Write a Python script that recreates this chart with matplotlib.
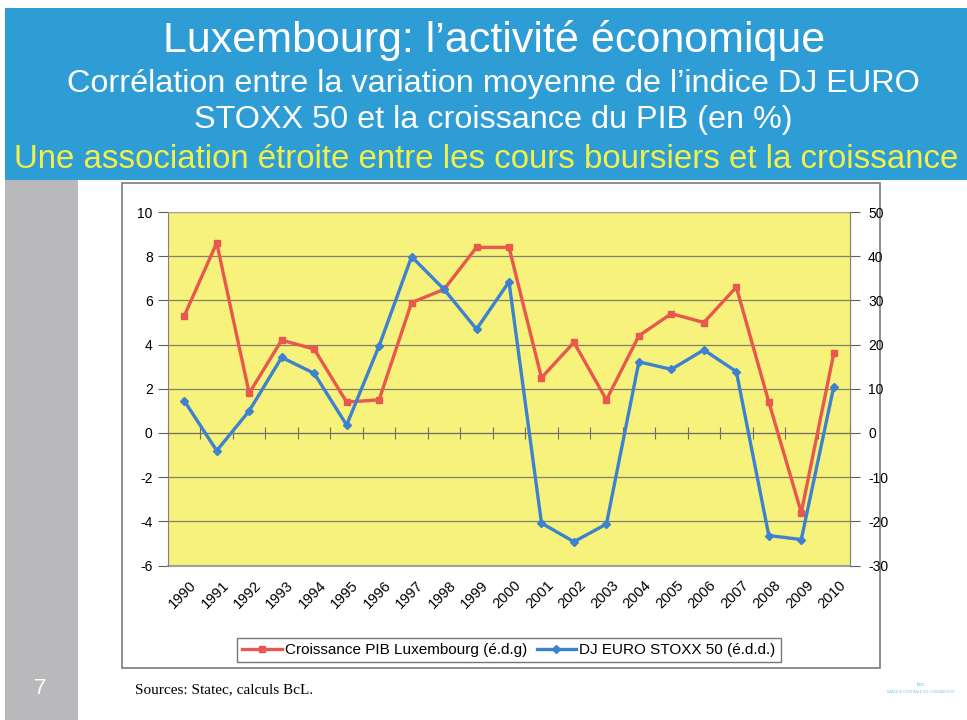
import matplotlib
matplotlib.use("Agg")
import matplotlib.pyplot as plt
from matplotlib.patches import Rectangle
from matplotlib.lines import Line2D

years = [str(y) for y in range(1990, 2011)]
pib = [5.3, 8.6, 1.8, 4.2, 3.8, 1.4, 1.5, 5.9, 6.5, 8.4, 8.4, 2.5, 4.1, 1.5, 4.4, 5.4, 5.0, 6.6, 1.4, -3.6, 3.6]
stoxx = [7.3, -4.0, 5.0, 17.1, 13.5, 1.8, 19.7, 39.9, 32.5, 23.5, 34.2, -20.4, -24.6, -20.6, 16.1, 14.4, 18.8, 13.9, -23.2, -24.1, 10.5]
left_ticks = [-6, -4, -2, 0, 2, 4, 6, 8, 10]
right_ticks = [-30, -20, -10, 0, 10, 20, 30, 40, 50]

title1 = "Luxembourg: l\u2019activit\u00e9 \u00e9conomique"
title2 = "Corr\u00e9lation entre la variation moyenne de l\u2019indice DJ EURO"
title3 = "STOXX 50 et la croissance du PIB (en %)"
title4 = "Une association \u00e9troite entre les cours boursiers et la croissance"
leg1 = "Croissance PIB Luxembourg (\u00e9.d.g)"
leg2 = "DJ EURO STOXX 50 (\u00e9.d.d.)"
source = "Sources: Statec, calculs BcL."

W, H = 967, 720
plt.rcParams['font.family'] = ['Liberation Sans', 'DejaVu Sans']
plt.rcParams['axes.unicode_minus'] = False
fig = plt.figure(figsize=(W / 100, H / 100), dpi=100)
fig.patch.set_facecolor('white')

def px(x0, y0, x1, y1):
    return [x0 / W, 1 - y1 / H, (x1 - x0) / W, (y1 - y0) / H]

bg = fig.add_axes([0, 0, 1, 1])
bg.set_xlim(0, W)
bg.set_ylim(H, 0)
bg.axis('off')
bg.add_patch(Rectangle((5, 8), W - 5, 172, facecolor='#2f9dd5', edgecolor='none'))
bg.add_patch(Rectangle((5, 180), 73, H - 180, facecolor='#b9b9bb', edgecolor='none'))
bg.add_patch(Rectangle((122, 183), 758, 485, facecolor='white', edgecolor='#7a7a7a', lw=1.2))
bg.text(494, 52, title1, color='white', fontsize=31, ha='center', va='baseline')
bg.text(493, 92, title2, color='white', fontsize=23.3, ha='center', va='baseline')
bg.text(493, 128, title3, color='white', fontsize=23.3, ha='center', va='baseline')
bg.text(486, 168, title4, color='#f2f04a', fontsize=23.8, ha='center', va='baseline')
bg.text(40, 688, "7", color='white', fontsize=16, ha='center', va='center')
bg.text(135, 690, source, fontsize=11, ha='left', va='center', family=['Liberation Serif', 'DejaVu Serif'])
bg.text(921, 684, "b:c", color='#5bb8d8', fontsize=5, ha='center', va='center', family=['Liberation Serif'])
bg.text(921, 692, "BANQUE CENTRALE DU LUXEMBOURG", color='#7cc8e0', fontsize=2.6, ha='center', va='center')

ax = fig.add_axes(px(168, 212, 850, 565.6))
ax.set_facecolor('#f7f27b')
x = list(range(len(years)))
red = '#e8584f'
blue = '#3d82d0'
ax.plot(x, pib, color=red, lw=2.4, marker='s', ms=4.5, zorder=4)
ax.set_xlim(-0.5, len(years) - 0.5)
ax.set_ylim(-6, 10)
ax.set_yticks(left_ticks)
ax.yaxis.grid(True, color='#808070', lw=0.9)
ax.set_axisbelow(True)
ax.tick_params(axis='y', direction='out', length=7, labelsize=10, color='#606060', pad=4)
ax.set_xticks([i - 0.5 for i in range(len(years) + 1)])
ax.set_xticklabels([])
ax.spines['bottom'].set_position(('data', 0))
ax.spines['bottom'].set_color('#707060')
ax.tick_params(axis='x', direction='inout', length=8, color='#707060')
for s in ['top', 'right']:
    ax.spines[s].set_color('#a0a0a0')
ax.spines['left'].set_color('#808080')
for i, yr in enumerate(years):
    ax.text(i + 0.15, -6.55, yr, rotation=45, ha='right', va='top', rotation_mode='anchor',
            fontsize=10.5, transform=ax.transData)
ax.axhline(-6, color='#a0a0a0', lw=1.5, clip_on=False)

ax2 = ax.twinx()
ax2.plot(x, stoxx, color=blue, lw=2.4, marker='D', ms=4, zorder=4)
ax2.set_ylim(-30, 50)
ax2.set_yticks(right_ticks)
ax2.tick_params(axis='y', direction='out', length=7, labelsize=10, color='#606060', pad=6)
ax2.spines['right'].set_color('#808080')
for s in ['top', 'left', 'bottom']:
    ax2.spines[s].set_visible(False)

handles = [Line2D([], [], color=red, lw=2.4, marker='s', ms=4.5),
           Line2D([], [], color=blue, lw=2.4, marker='D', ms=4)]
fig.legend(handles, [leg1, leg2], loc='center', bbox_to_anchor=(509 / W, 1 - 650 / H),
           ncol=2, fontsize=11, frameon=True, fancybox=False, edgecolor='#555555',
           handlelength=2.6, handletextpad=0.2, columnspacing=0.6, borderpad=0.35)

fig.savefig('out.png', dpi=100)
